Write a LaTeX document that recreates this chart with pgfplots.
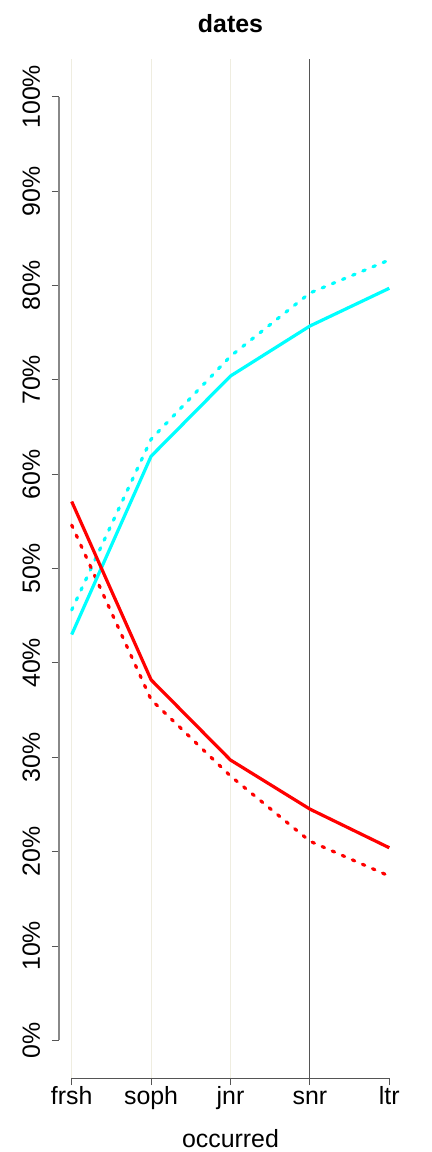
\documentclass[border=0pt]{standalone}
\usepackage{fontspec}
\setmainfont{Liberation Sans}
\usepackage{pgfplots}
\pgfplotsset{compat=1.18}
\definecolor{cRed}{HTML}{FF0000}
\definecolor{cCyan}{HTML}{00FFFF}
\definecolor{cBeige}{HTML}{EFEDE0}
\definecolor{cAxis}{HTML}{555555}
\newcommand{\bigfont}{\fontsize{25}{30}\selectfont}
\begin{document}
\begin{tikzpicture}
\begin{axis}[
    scale only axis, width=343bp, height=1019bp,
    xmin=0.84, xmax=5.16, ymin=-4, ymax=104,
    axis line style={draw=none},
    clip=false,
    xtick={1,2,3,4,5}, xticklabels={frsh,soph,jnr,snr,ltr},
    ytick={0,10,...,100},
    yticklabels={0\%,10\%,20\%,30\%,40\%,50\%,60\%,70\%,80\%,90\%,100\%},
    xtick pos=bottom, ytick pos=left, tick align=outside,
    major tick length=7bp,
    tick style={draw=cAxis, line width=0.8bp},
    /pgf/number format/assume math mode=true,
    tick label style={font=\bigfont},
    yticklabel style={xshift=-12bp, rotate=90, anchor=base},
    xticklabel style={anchor=base, yshift=-19bp},
    title={\textbf{dates}},
    title style={font=\bigfont, at={(0.5,1)}, anchor=base, yshift=21bp},
    xlabel={occurred},
    xlabel style={font=\bigfont, at={(0.5,0)}, anchor=base, yshift=-69bp},
    every axis plot/.append style={line width=3.2bp},
]
\coordinate (o) at (rel axis cs:0,0);
% background lines
\draw[cBeige, line width=0.8bp] (axis cs:1,-4) -- (axis cs:1,104);
\draw[cBeige, line width=0.8bp] (axis cs:2,-4) -- (axis cs:2,104);
\draw[cBeige, line width=0.8bp] (axis cs:3,-4) -- (axis cs:3,104);
\draw[cAxis, line width=1bp] (axis cs:4,-4) -- (axis cs:4,104);
% axis segments
\draw[cAxis!70, line width=1.5bp] (axis cs:0.84,0) -- (axis cs:0.84,100);
\draw[cAxis, line width=1bp] (axis cs:1,-4) -- (axis cs:5,-4);

\addplot[cCyan, dash pattern=on 2.6bp off 8.4bp, line cap=round] coordinates {(1,45.6) (2,63.7) (3,72.5) (4,79.2) (5,82.7)};
\addplot[cRed, dash pattern=on 2.6bp off 8.4bp, line cap=round] coordinates {(1,54.6) (2,36.1) (3,28.0) (4,21.1) (5,17.4)};
\addplot[cCyan] coordinates {(1,43.0) (2,61.9) (3,70.4) (4,75.7) (5,79.7)};
\addplot[cRed] coordinates {(1,57.1) (2,38.2) (3,29.7) (4,24.5) (5,20.4)};
\end{axis}
\pgfresetboundingbox
\path[use as bounding box] (o) ++(-59bp,-74bp) rectangle ++(432bp,1152bp);
\end{tikzpicture}
\end{document}
